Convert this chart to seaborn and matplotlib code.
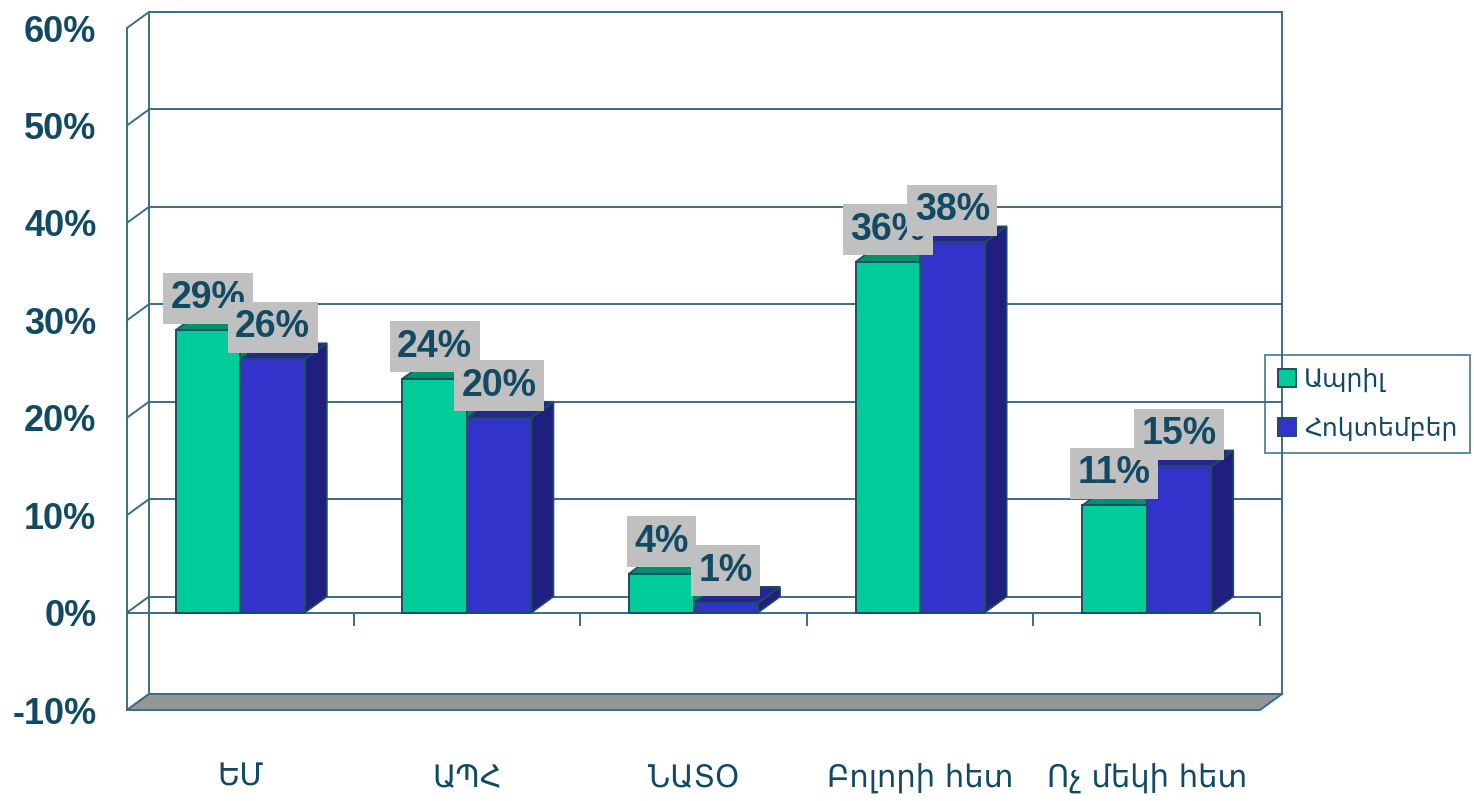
import numpy as np
import pandas as pd
import matplotlib
matplotlib.use("Agg")
import matplotlib.pyplot as plt
import seaborn as sns
from matplotlib.patches import Polygon, Patch, Rectangle
from matplotlib.transforms import ScaledTranslation, IdentityTransform
from matplotlib.lines import Line2D

# ---------------- data ----------------
categories = ["ԵՄ", "ԱՊՀ", "ՆԱՏՕ", "Բոլորի հետ", "Ոչ մեկի հետ"]
series_names = ["Ապրիլ", "Հոկտեմբեր"]
april = [29, 24, 4, 36, 11]
october = [26, 20, 1, 38, 15]
yticks = [-10, 0, 10, 20, 30, 40, 50, 60]
ytick_labels = [f"{t}%" for t in yticks]

# ---------------- style ----------------
GREEN = "#00CC99"
BLUE = "#3333CC"
GREEN_TOP = "#00926B"
GREEN_SIDE = "#008A65"
BLUE_TOP = "#26268F"
BLUE_SIDE = "#1F1F7D"
EDGE = "#1C4E63"
AXC = "#3A6D84"
TXT = "#124A64"
LABEL_BG = "#C0C0C0"
FLOOR = "#969696"

sns.set_theme(style="white")
plt.rcParams["font.family"] = ["Liberation Sans", "DejaVu Sans"]

DPI = 100
W, H = 1474, 801
fig = plt.figure(figsize=(W / DPI, H / DPI), dpi=DPI)
ax = fig.add_axes([127 / W, 1 - 710 / H, (1260 - 127) / W, (710 - 28) / H])
ax.patch.set_alpha(0)

df = pd.DataFrame({
    "cat": categories * 2,
    "period": [series_names[0]] * len(categories) + [series_names[1]] * len(categories),
    "value": april + october,
})
sns.barplot(data=df, x="cat", y="value", hue="period", order=categories,
            hue_order=series_names, palette=[GREEN, BLUE], saturation=1,
            width=0.57, edgecolor=EDGE, linewidth=1.4, legend=False, ax=ax)
bar_patches = sorted([p for p in ax.patches if isinstance(p, Rectangle)],
                     key=lambda p: p.get_x())
ax.set_xlim(-0.5, len(categories) - 0.5)
ax.set_ylim(min(yticks), max(yticks))
ax.set_xlabel("")
ax.set_ylabel("")

DX, DY = 22, 16  # depth offset in pixels
back = ax.transData + ScaledTranslation(DX / DPI, DY / DPI, fig.dpi_scale_trans)
ident = IdentityTransform()
off = np.array([DX, DY])


def disp(x, y):
    return ax.transData.transform((x, y))


x_lo, x_hi = -0.5, len(categories) - 0.5
# back wall grid + edges
for y in yticks:
    ax.plot([x_lo, x_hi], [y, y], transform=back, color=AXC, lw=1.4,
            clip_on=False, zorder=0.5)
for xe in (x_lo, x_hi):
    ax.plot([xe, xe], [min(yticks), max(yticks)], transform=back, color=AXC,
            lw=1.4, clip_on=False, zorder=0.5)
# left wall diagonals
for y in yticks:
    p = disp(x_lo, y)
    q = p + off
    ax.add_line(Line2D([p[0], q[0]], [p[1], q[1]], transform=ident, color=AXC,
                       lw=1.4, clip_on=False, zorder=0.6))
# floor
f0 = disp(x_lo, min(yticks)); f1 = disp(x_hi, min(yticks))
ax.add_patch(Polygon([f0, f1, f1 + off, f0 + off], closed=True, transform=ident,
                     facecolor=FLOOR, edgecolor=AXC, lw=1.4, clip_on=False, zorder=0.7))

# front category axis at 0 with boundary ticks
ax.axhline(0, color=AXC, lw=1.4, zorder=1)
bounds = np.arange(len(categories) + 1) - 0.5
ax.vlines(bounds[1:], -1.35, 0, color=AXC, lw=1.4, zorder=1, clip_on=False)

# 3D faces for bars
colors_top = [GREEN_TOP, BLUE_TOP]
colors_side = [GREEN_SIDE, BLUE_SIDE]
values = [april, october]
for k, patch in enumerate(bar_patches):
    s = k % 2
    ci = k // 2
    x0 = patch.get_x(); w = patch.get_width(); h = patch.get_height()
    y0 = patch.get_y()
    br = disp(x0 + w, y0)
    tl = disp(x0, y0 + h); tr = disp(x0 + w, y0 + h)
    base = 3 + k
    ax.add_patch(Polygon([br, tr, tr + off, br + off], closed=True, transform=ident,
                         facecolor=colors_side[s], edgecolor=EDGE, lw=1.2,
                         zorder=base, clip_on=False))
    ax.add_patch(Polygon([tl, tr, tr + off, tl + off], closed=True, transform=ident,
                         facecolor=colors_top[s], edgecolor=EDGE, lw=1.2,
                         zorder=base, clip_on=False))
    patch.set_zorder(base + 0.5)
    v = values[s][ci]
    ax.annotate(f"{v}%", xy=(x0 + w / 2, y0 + h), xytext=(0, 23),
                textcoords="offset points", ha="center", va="center",
                fontsize=27, fontweight="bold", color=TXT, zorder=50 + k,
                bbox=dict(boxstyle="square,pad=0.2", fc=LABEL_BG, ec="none"))

# axes styling
for sp in ("top", "right", "bottom"):
    ax.spines[sp].set_visible(False)
ax.spines["left"].set_color(AXC)
ax.spines["left"].set_linewidth(1.4)
ax.set_yticks(yticks)
ax.set_yticklabels(ytick_labels)
ax.tick_params(axis="y", direction="out", length=7, width=1.4, color=AXC,
               pad=15, labelsize=26, labelcolor=TXT)
for t in ax.get_yticklabels():
    t.set_fontweight("bold")
ax.set_xticks(range(len(categories)))
ax.set_xticklabels(categories, family=["DejaVu Sans"])
ax.tick_params(axis="x", length=0, pad=38, labelsize=22, labelcolor=TXT)
ax.grid(False)

# legend
handles = [Patch(facecolor=c, edgecolor=EDGE, lw=1.4) for c in (GREEN, BLUE)]
leg = fig.legend(handles, series_names, loc="upper left",
                 bbox_to_anchor=(1265 / W, 1 - 355 / H), bbox_transform=fig.transFigure,
                 frameon=True, fancybox=False, handlelength=0.75,
                 handleheight=0.75, handletextpad=0.3, labelspacing=1.0,
                 borderpad=0.5, borderaxespad=0, prop={"family": ["DejaVu Sans"], "size": 18})
leg.get_frame().set_edgecolor(AXC)
leg.get_frame().set_linewidth(1.4)
leg.get_frame().set_facecolor("none")
for t in leg.get_texts():
    t.set_color(TXT)

fig.savefig("out.png", dpi=DPI)
